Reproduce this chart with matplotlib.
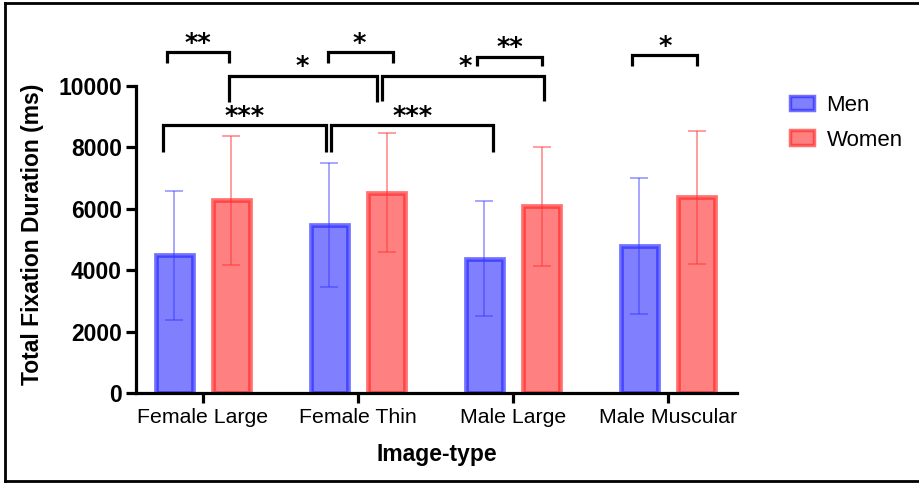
import matplotlib
matplotlib.use("Agg")
import matplotlib.pyplot as plt
from matplotlib.patches import Patch
from matplotlib.lines import Line2D
import numpy as np

plt.rcParams['font.family'] = ['Liberation Sans', 'DejaVu Sans']

categories = ['Female Large', 'Female Thin', 'Male Large', 'Male Muscular']
men_mean = [4480, 5470, 4370, 4790]
men_sd = [2090, 2010, 1870, 2210]
women_mean = [6275, 6530, 6075, 6370]
women_sd = [2105, 1950, 1950, 2155]
series_labels = ['Men', 'Women']
yticks = [0, 2000, 4000, 6000, 8000, 10000]

# significance annotations: (x_left, x_right, y_top, y_left_end, y_right_end)
brackets = [
    (-0.234, 0.166, 11117, 10759, 10759),
    (0.805, 1.228, 11098, 10759, 10759),
    (0.166, 1.121, 10326, 9489, 9489),
    (1.153, 2.200, 10326, 9521, 9521),
    (1.765, 2.190, 10954, 10651, 10651),
    (2.766, 3.190, 11010, 10651, 10651),
    (-0.256, 0.794, 8730, 7860, 7860),
    (0.826, 1.873, 8730, 7860, 7860),
]
# star labels: (x, y, text)
stars = [
    (-0.035, 11350, '**'),
    (1.010, 11320, '*'),
    (0.640, 10600, '*'),
    (1.690, 10600, '*'),
    (1.980, 11190, '**'),
    (2.980, 11250, '*'),
    (0.270, 8970, '***'),
    (1.350, 8970, '***'),
]

W, H = 919, 483
fig = plt.figure(figsize=(W / 100, H / 100), dpi=100)
ax = fig.add_axes([136 / W, 1 - 393 / H, (737 - 136) / W, (393 - 86) / H])

x = np.arange(len(categories))
off = 0.184
bw = 0.235

men_face = '#8080ff'
men_edge = (0.15, 0.15, 1.0, 0.65)
wom_face = '#ff8080'
wom_edge = (1.0, 0.15, 0.15, 0.65)

ax.bar(x - off, men_mean, width=bw, color=men_face, edgecolor=men_edge, linewidth=3.4, zorder=2)
ax.bar(x + off, women_mean, width=bw, color=wom_face, edgecolor=wom_edge, linewidth=3.4, zorder=2)
ax.errorbar(x - off, men_mean, yerr=men_sd, fmt='none', ecolor=(0.2, 0.2, 1.0, 0.55),
            elinewidth=1.1, capsize=6.5, capthick=1.1, zorder=3)
ax.errorbar(x + off, women_mean, yerr=women_sd, fmt='none', ecolor=(1.0, 0.2, 0.2, 0.6),
            elinewidth=1.1, capsize=6.5, capthick=1.1, zorder=3)

ax.set_xlim(-0.432, 3.445)
ax.set_ylim(0, 10000)
ax.set_yticks(yticks)
ax.set_yticklabels([str(v) for v in yticks], fontweight='bold', fontsize=16.5)
ax.set_xticks(x)
ax.set_xticklabels(categories, fontsize=15.3)
for s in ['top', 'right']:
    ax.spines[s].set_visible(False)
for s in ['left', 'bottom']:
    ax.spines[s].set_linewidth(2.3)
ax.tick_params(axis='both', width=2.3, length=7, color='black')
ax.tick_params(axis='y', pad=3)
ax.tick_params(axis='x', pad=4)

ax.set_ylabel('Total Fixation Duration (ms)', fontweight='bold', fontsize=16.5)
ax.yaxis.set_label_coords(-0.153, 0.518)
ax.set_xlabel('Image-type', fontweight='bold', fontsize=16.5)
ax.xaxis.set_label_coords(0.5, -0.163)

for (xl, xr, yt, yl, yr) in brackets:
    ax.plot([xl, xl, xr, xr], [yl, yt, yt, yr], color='black', lw=2.3,
            solid_joinstyle='miter', solid_capstyle='butt', clip_on=False, zorder=4)
for (sx, sy, txt) in stars:
    ax.text(sx, sy, txt, ha='center', va='center', fontsize=18.5, fontweight='bold',
            family='DejaVu Sans', clip_on=False)

handles = [Patch(facecolor=men_face, edgecolor=men_edge, linewidth=2.5),
           Patch(facecolor=wom_face, edgecolor=wom_edge, linewidth=2.5)]
fig.legend(handles, series_labels, loc='upper left', bbox_to_anchor=(781 / W, 1 - 86 / H),
           frameon=False, fontsize=16, handlelength=1.1, handleheight=0.65,
           handletextpad=0.55, labelspacing=0.62, borderaxespad=0)

# outer frame
fig.add_artist(Line2D([5 / W, 5 / W], [1 - 481 / H, 1 - 3 / H], transform=fig.transFigure, color='black', lw=2))
fig.add_artist(Line2D([5 / W, 1], [1 - 3 / H, 1 - 3 / H], transform=fig.transFigure, color='black', lw=2))
fig.add_artist(Line2D([5 / W, 1], [1 - 481 / H, 1 - 481 / H], transform=fig.transFigure, color='black', lw=2))

fig.savefig('out.png', dpi=100)
